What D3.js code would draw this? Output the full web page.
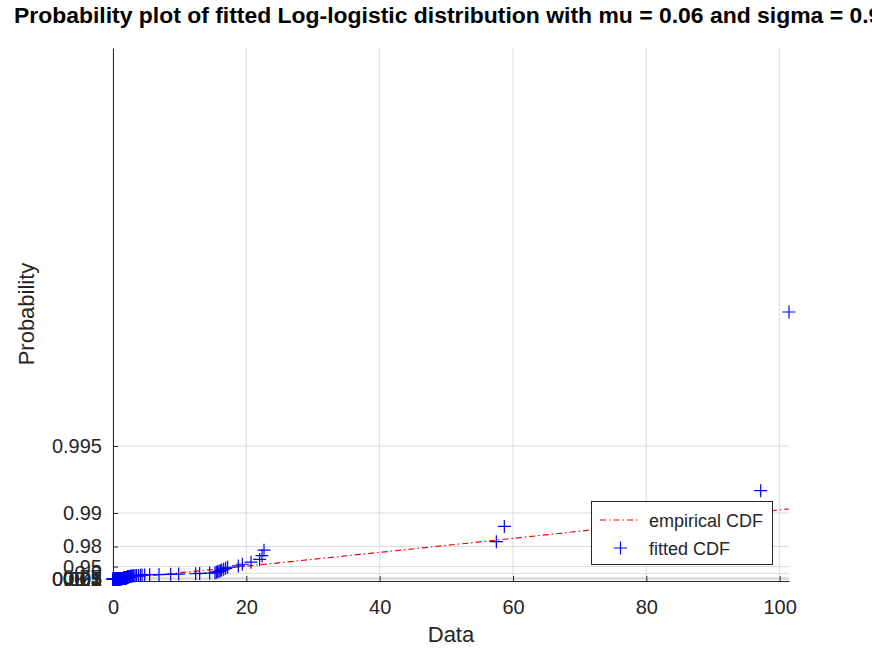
<!DOCTYPE html>
<head>
  <meta charset="utf-8">
  <script src="https://d3js.org/d3.v7.min.js"></script>
  <style>
    body { margin: 0; background: #fff; }
    text { font-family: "Liberation Sans", Arial, sans-serif; fill: #262626; }
  </style>
</head>
<body>
  <script>
    // sorted sample values (x), plotted against plotting positions (i - 0.5) / n
    var sample = [
      0.004, 0.011, 0.016, 0.023, 0.027, 0.035, 0.041, 0.044, 0.053, 0.059,
      0.062, 0.071, 0.077, 0.08, 0.088, 0.092, 0.101, 0.106, 0.11, 0.119,
      0.125, 0.13, 0.139, 0.145, 0.151, 0.158, 0.163, 0.172, 0.177, 0.186,
      0.193, 0.199, 0.208, 0.214, 0.224, 0.231, 0.237, 0.247, 0.255, 0.262,
      0.272, 0.279, 0.29, 0.297, 0.308, 0.318, 0.325, 0.336, 0.344, 0.357,
      0.364, 0.377, 0.386, 0.399, 0.41, 0.419, 0.433, 0.443, 0.457, 0.468,
      0.483, 0.494, 0.51, 0.521, 0.537, 0.549, 0.566, 0.579, 0.597, 0.611,
      0.63, 0.644, 0.663, 0.679, 0.7, 0.716, 0.737, 0.755, 0.778, 0.796,
      0.82, 0.84, 0.866, 0.887, 0.913, 0.936, 0.964, 0.989, 1.012, 1.034,
      1.052, 1.069, 1.093, 1.108, 1.134, 1.149, 1.172, 1.193, 1.208, 1.234,
      1.251, 1.268, 1.293, 1.309, 1.334, 1.348, 1.372, 1.394, 1.41, 1.436,
      1.452, 1.471, 1.493, 1.514, 1.532, 1.556, 1.571, 1.594, 1.613, 1.632,
      1.661, 1.672, 1.69, 1.704, 1.718, 1.735, 1.752, 1.769, 1.781, 1.803,
      1.816, 1.834, 1.852, 1.867, 1.879, 1.903, 1.92, 1.938, 1.957, 1.972,
      1.984, 2.01, 2.027, 2.042, 2.066, 2.081, 2.097, 2.113, 2.128, 2.156,
      2.17, 2.188, 2.203, 2.217, 2.251, 2.263, 2.279, 2.31, 2.327, 2.344,
      2.462, 2.52, 2.572, 2.6,
      2.65, 2.8, 2.95, 3.1, 3.3, 3.5, 3.8, 4.1, 4.35, 4.75,
      5.5, 6.9, 8.65, 9.85, 12.4, 13.0, 14.5, 15.3, 15.5, 15.7,
      15.9, 16.1, 16.3, 16.6, 16.9, 17.2, 18.8, 19.4, 20.7, 22.0,
      22.35, 22.65, 57.5, 58.7, 97.15, 101.4
    ];

    // reference line (x, odds)
    var lineX = [0, 20, 40, 60, 80, 101.4];
    var lineY = [0, 19.6, 40.2, 61.1, 82.6, 105];

    var yTicks = [0.001, 0.005, 0.01, 0.02, 0.05, 0.1, 0.25, 0.5, 0.75, 0.9, 0.95, 0.98, 0.99, 0.995];
    var xTicks = [0, 20, 40, 60, 80, 100];

    var W = 872, H = 654;
    var pLeft = 113, pRight = 789, pTop = 48, pBottom = 581;

    // probability axis: linear in odds p / (1 - p)
    var odds = function(p) { return p / (1 - p); };

    var x = d3.scaleLinear().domain([0, 101.4]).range([pLeft, pRight]);
    var y = d3.scaleLinear().domain([-2.5, 793]).range([pBottom, pTop]);

    var svg = d3.select('body').append('svg')
      .attr('width', W).attr('height', H);

    // grid
    var grid = svg.append('g').attr('stroke', '#dcdcdc').attr('stroke-width', 1);
    grid.selectAll('.gx').data(xTicks).enter().append('line')
      .attr('x1', d => x(d)).attr('x2', d => x(d))
      .attr('y1', pTop).attr('y2', pBottom);
    grid.selectAll('.gy').data(yTicks).enter().append('line')
      .attr('x1', pLeft).attr('x2', pRight)
      .attr('y1', d => y(odds(d))).attr('y2', d => y(odds(d)));

    // axes
    var xAxis = d3.axisBottom(x).tickValues(xTicks).tickSizeInner(-5).tickSizeOuter(0).tickPadding(19);
    var gx = svg.append('g').attr('transform', 'translate(0,' + pBottom + ')').call(xAxis);

    var yAxis = d3.axisLeft(y).tickValues(yTicks.map(odds)).tickSizeInner(-5).tickSizeOuter(0)
      .tickPadding(11).tickFormat((d, i) => yTicks[i]);
    var gy = svg.append('g').attr('transform', 'translate(' + pLeft + ',0)').call(yAxis);

    [gx, gy].forEach(function(g) {
      g.select('.domain').attr('stroke', '#262626');
      g.selectAll('.tick line').attr('stroke', '#262626');
      g.selectAll('text')
        .style('font-family', '"Liberation Sans", Arial, sans-serif')
        .style('font-size', '20px').attr('fill', '#262626');
    });

    // reference line
    var lineData = lineX.map((d, i) => [d, lineY[i]]);
    svg.append('path')
      .datum(lineData)
      .attr('fill', 'none')
      .attr('stroke', '#ff0000')
      .attr('stroke-width', 1.2)
      .attr('stroke-dasharray', '6,3,1.5,3')
      .attr('d', d3.line().x(d => x(d[0])).y(d => y(d[1])));

    // markers
    var n = sample.length;
    svg.append('g').selectAll('path')
      .data(sample).enter().append('path')
      .attr('d', 'M-6.5,0H6.5M0,-6.5V6.5')
      .attr('transform', (d, i) => 'translate(' + x(d) + ',' + y(odds((i + 0.5) / n)) + ')')
      .attr('stroke', '#0000ff')
      .attr('stroke-width', 1.2)
      .attr('fill', 'none');

    // legend
    var lg = svg.append('g');
    lg.append('rect')
      .attr('x', 591.5).attr('y', 501.5).attr('width', 181).attr('height', 63)
      .attr('fill', '#fff').attr('stroke', '#262626').attr('stroke-width', 1);
    lg.append('line')
      .attr('x1', 600).attr('x2', 640).attr('y1', 520).attr('y2', 520)
      .attr('stroke', '#ff0000').attr('stroke-width', 1.2).attr('stroke-dasharray', '6,3,1.5,3');
    lg.append('path')
      .attr('d', 'M-6.5,0H6.5M0,-6.5V6.5')
      .attr('transform', 'translate(620.5,548)')
      .attr('stroke', '#0000ff').attr('stroke-width', 1.2).attr('fill', 'none');
    lg.append('text').attr('x', 649).attr('y', 526.5).style('font-size', '18px').text('empirical CDF');
    lg.append('text').attr('x', 649).attr('y', 554.5).style('font-size', '18px').text('fitted CDF');

    // labels
    svg.append('text')
      .attr('x', (pLeft + pRight) / 2).attr('y', 642)
      .attr('text-anchor', 'middle').style('font-size', '22px').text('Data');
    svg.append('text')
      .attr('transform', 'translate(34,314) rotate(-90)')
      .attr('text-anchor', 'middle').style('font-size', '22px').text('Probability');

    svg.append('text')
      .attr('x', 14).attr('y', 23)
      .attr('textLength', 880).attr('lengthAdjust', 'spacingAndGlyphs')
      .style('font-size', '22px').style('font-weight', 'bold').style('fill', '#000')
      .text('Probability plot of fitted Log-logistic distribution with mu = 0.06 and sigma = 0.95');
  </script>
</body>
